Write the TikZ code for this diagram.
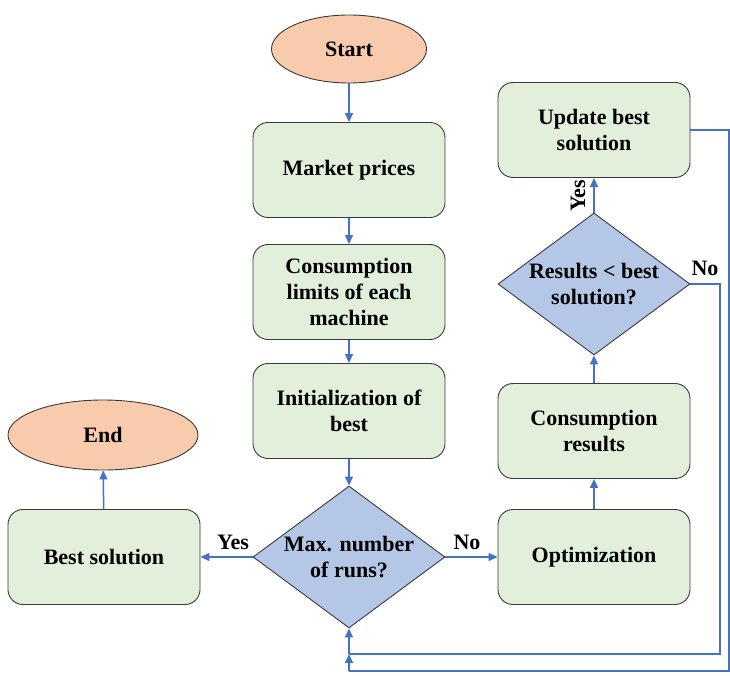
\documentclass[tikz,border=0pt]{standalone}
\usepackage{fontspec}
\setmainfont{Liberation Serif}
\usepackage{xcolor}
\usetikzlibrary{arrows.meta,shapes.geometric}

\definecolor{peach}{HTML}{F8CBAD}
\definecolor{sage}{HTML}{E2EFDA}
\definecolor{steel}{HTML}{B4C7E7}
\definecolor{link}{HTML}{4472C4}
\definecolor{rim}{HTML}{3A3A3A}

\begin{document}
\begin{tikzpicture}[
  x=1pt, y=-1pt,
  term/.style={draw=rim, line width=0.9pt, ellipse, fill=peach,
               inner sep=0pt, align=center,
               font=\fontsize{22}{26}\selectfont\bfseries},
  proc/.style={draw=rim, line width=0.9pt, rounded corners=15pt, fill=sage,
               minimum width=192pt, minimum height=95pt, inner sep=0pt,
               align=center, font=\fontsize{22}{26}\selectfont\bfseries},
  dec/.style={draw=rim, line width=0.9pt, diamond, fill=steel,
              minimum width=192pt, minimum height=142pt, inner sep=-14pt,
              aspect=1.35, align=center,
              font=\fontsize{22}{26}\selectfont\bfseries},
  lbl/.style={font=\fontsize{22}{24}\selectfont\bfseries, inner sep=0pt},
  ar/.style={-{Triangle[length=9pt,width=8pt]}, draw=link, line width=1.5pt},
  ln/.style={draw=link, line width=1.5pt},
]
  \useasboundingbox (0,0) rectangle (730,676);

  %% Main column
  \node[term, minimum width=155pt, minimum height=68pt] (start) at (349,49) {Start};
  \node[proc] (mkt) at (349,170) {Market prices};
  \node[proc] (lim) at (349,292) {Consumption\\limits of each\\machine};
  \node[proc] (ini) at (349,411) {Initialization of\\best};
  \node[dec]  (mx)  at (349,557) {Max. number\\of runs?};

  %% Left column
  \node[proc] (best) at (104,557) {Best solution};
  \node[term, minimum width=190pt, minimum height=70pt] (fin) at (103,435) {End};

  %% Right column
  \node[proc] (opt)  at (594,557) {Optimization};
  \node[proc] (cres) at (594,431) {Consumption\\results};
  \node[dec]  (res)  at (594,284) {Results < best\\solution?};
  \node[proc] (upd)  at (594,130) {Update best\\solution};

  %% Straight arrows
  \foreach \a/\b in {start/mkt, mkt/lim, lim/ini, ini/mx,
                     mx/best, best/fin, mx/opt, opt/cres, cres/res, res/upd}
    \draw[ar] (\a) -- (\b);

  %% Labels
  \node[lbl] at (233,542) {Yes};
  \node[lbl] at (467,542) {No};
  \node[lbl] at (705,268) {No};
  \node[lbl, rotate=90] at (578,196) {Yes};

  %% Loops back to the decision
  \coordinate (jn) at (349,654);
  \draw[ln] (upd.east) -- (729,130) -- (729,671) -- (349,671);
  \draw[ar] (349,671) -- (jn);
  \draw[ln] (res.east) -- (720,284) -- (720,654) -- (jn);
  \draw[ar] (jn) -- (mx.south);
\end{tikzpicture}
\end{document}
